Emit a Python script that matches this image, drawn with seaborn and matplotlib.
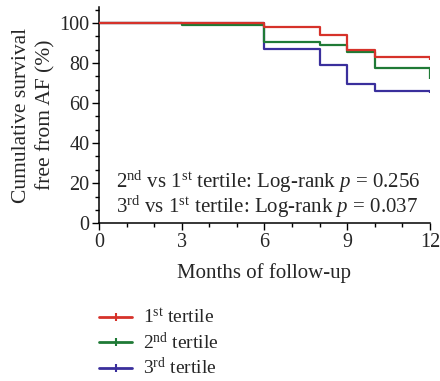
import numpy as np
import pandas as pd
import seaborn as sns
import matplotlib
matplotlib.use("Agg")
import matplotlib.pyplot as plt
from matplotlib.lines import Line2D
from matplotlib.ticker import MultipleLocator

# Data
groups = ["1st tertile", "2nd tertile", "3rd tertile"]
t1_time = [0, 6, 8, 9, 10, 12]
t1_surv = [100, 98.0, 94.2, 86.5, 83.1, 81.3]
t2_time = [0, 3, 6, 8, 9, 10, 12]
t2_surv = [100, 98.9, 90.4, 88.8, 85.3, 77.5, 71.9]
t3_time = [0, 6, 8, 9, 10, 12]
t3_surv = [100, 87.1, 79.2, 69.7, 66.1, 64.8]
x_ticks = [0, 3, 6, 9, 12]
y_ticks = [0, 20, 40, 60, 80, 100]
legend_labels = [r"1$^{\mathrm{st}}$ tertile", r"2$^{\mathrm{nd}}$ tertile", r"3$^{\mathrm{rd}}$ tertile"]
annot_lines = [r"2$^{\mathrm{nd}}$ vs 1$^{\mathrm{st}}$ tertile: Log-rank $p$ = 0.256",
               r"3$^{\mathrm{rd}}$ vs 1$^{\mathrm{st}}$ tertile: Log-rank $p$ = 0.037"]
colors = ["#d6322a", "#1f7a36", "#3a2f9c"]

df = pd.concat([
    pd.DataFrame({"time": t1_time, "surv": t1_surv, "group": groups[0]}),
    pd.DataFrame({"time": t2_time, "surv": t2_surv, "group": groups[1]}),
    pd.DataFrame({"time": t3_time, "surv": t3_surv, "group": groups[2]}),
])

sns.set_theme(style="ticks")
plt.rcParams["font.family"] = ["Liberation Serif", "DejaVu Serif"]
plt.rcParams["mathtext.fontset"] = "custom"
plt.rcParams["mathtext.rm"] = "Liberation Serif"
plt.rcParams["mathtext.it"] = "Liberation Serif:italic"

fig = plt.figure(figsize=(4.4, 3.81), dpi=100)
ax = fig.add_axes([0.225, 0.414, 0.752, 0.568])

sns.lineplot(data=df, x="time", y="surv", hue="group", hue_order=groups, palette=colors,
             estimator=None, drawstyle="steps-post", linewidth=1.6,
             legend=False, ax=ax)
for i, ln in enumerate(ax.lines):
    ln.set_zorder(5 - i)
    ln.set_solid_capstyle("butt")

ax.set_xlim(0, 12)
ax.set_ylim(0, 108)
ax.set_xticks(x_ticks)
ax.set_yticks(y_ticks)
ax.xaxis.set_minor_locator(MultipleLocator(1))
ax.yaxis.set_minor_locator(MultipleLocator(20 / 3))
ax.tick_params(axis="both", which="major", length=5, width=1, labelsize=14.5, color="black", pad=2)
ax.tick_params(axis="both", which="minor", length=3, width=1, color="black")
for s in ["top", "right"]:
    ax.spines[s].set_visible(False)
for s in ["left", "bottom"]:
    ax.spines[s].set_linewidth(1.1)
    ax.spines[s].set_color("black")

ax.set_xlabel("Months of follow-up", fontsize=15, labelpad=8)
ax.set_ylabel("Cumulative survival\nfree from AF (%)", fontsize=15.5, labelpad=3, linespacing=1.35)

ax.text(0.05, 0.049, annot_lines[0] + "\n" + annot_lines[1], transform=ax.transAxes,
        fontsize=15, ha="left", va="baseline", linespacing=0.95)

handles = [Line2D([0], [0], color=c, lw=2, marker="|", markersize=6, markeredgewidth=1.5) for c in colors]
fig.legend(handles, legend_labels, loc="upper left", bbox_to_anchor=(0.208, 0.212),
           frameon=False, fontsize=14, handlelength=1.7, handletextpad=0.55,
           labelspacing=0.22, borderaxespad=0)

fig.savefig("out.png", dpi=100)
